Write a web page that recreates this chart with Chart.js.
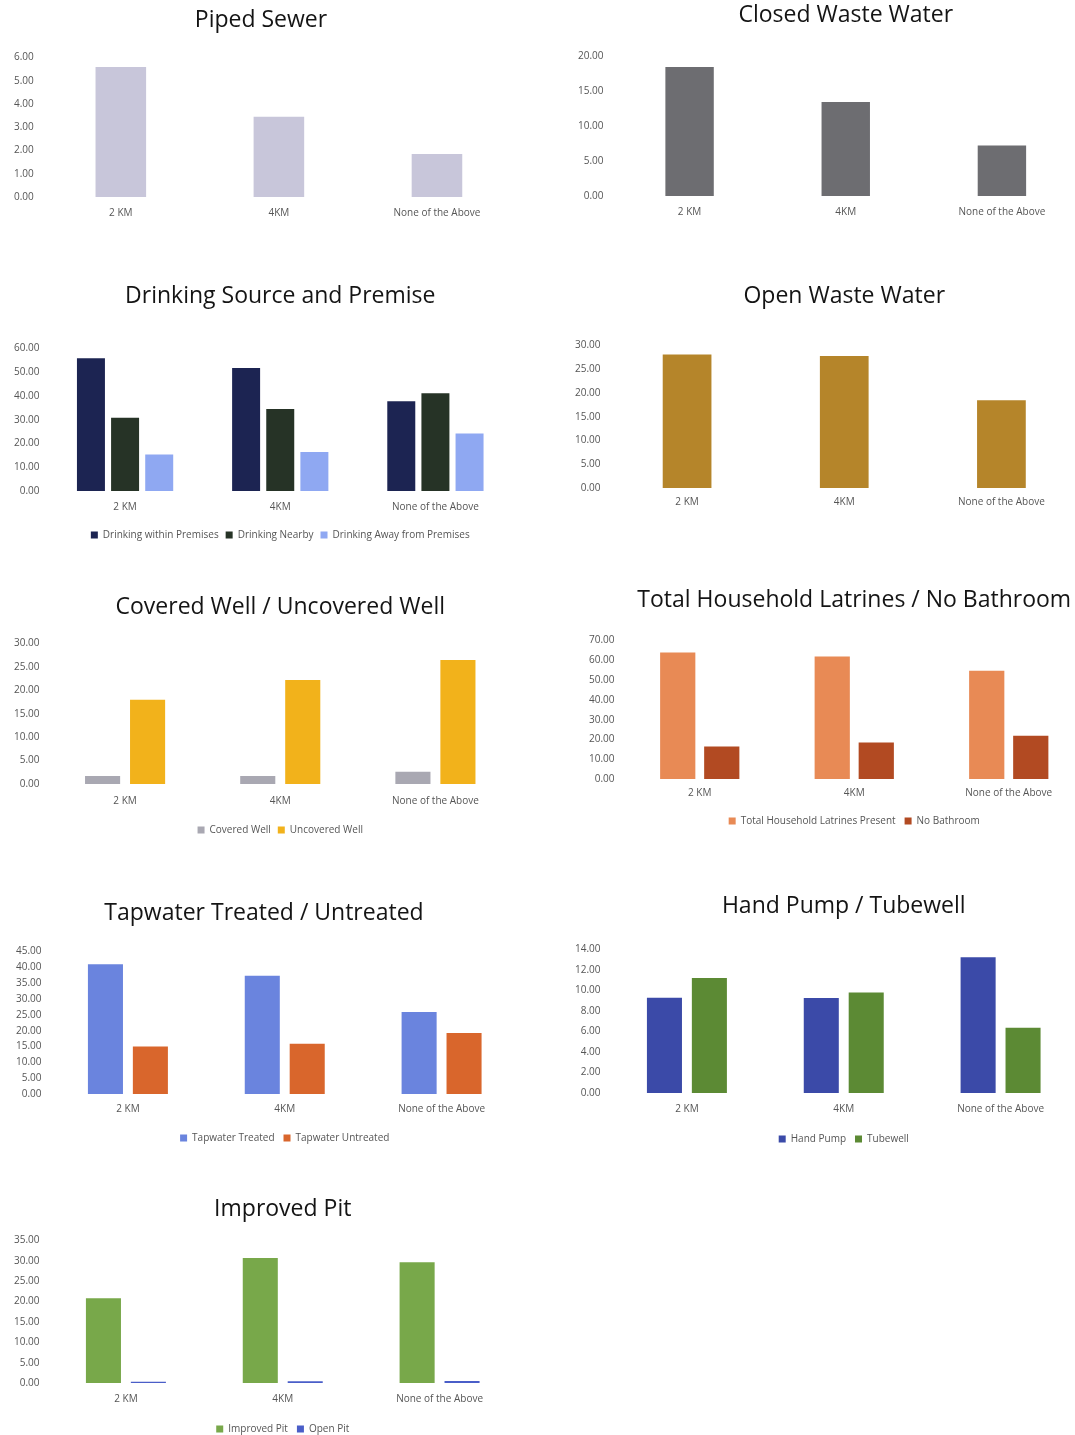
<!DOCTYPE html>
<html>
<head>
<meta charset="utf-8">
<script src="https://cdn.jsdelivr.net/npm/chart.js@4.4.1/dist/chart.umd.min.js"></script>
<style>
    html, body { margin: 0; padding: 0; background: #fff; overflow: hidden; width: 1075px; height: 1435px; }
    canvas { position: absolute; }
</style>
</head>
<body>
<script>
// --- Data ---
const categories = ['2 KM', '4KM', 'None of the Above'];

const pipedSewer = [5.6, 3.45, 1.85];
const closedWasteWater = [18.5, 13.5, 7.25];
const drinkingWithin = [55.9, 51.8, 37.8];
const drinkingNearby = [30.9, 34.6, 41.2];
const drinkingAway = [15.4, 16.4, 24.2];
const openWasteWater = [28.1, 27.8, 18.5];
const coveredWell = [1.7, 1.7, 2.6];
const uncoveredWell = [18.0, 22.2, 26.5];
const latrinesPresent = [64.0, 62.0, 54.8];
const noBathroom = [16.4, 18.4, 21.9];
const tapTreated = [41.0, 37.4, 25.9];
const tapUntreated = [15.0, 15.9, 19.3];
const handPump = [9.3, 9.27, 13.26];
const tubewell = [11.23, 9.82, 6.37];
const improvedPit = [20.8, 30.7, 29.7];
const openPit = [0.3, 0.4, 0.5];

const FONT = "'Open Sans', 'Noto Sans', sans-serif";

// --- One panel per chart: where it sits and how it looks ---
const panels = [
    { title: 'Piped Sewer', left: 0, top: 0, width: 520, height: 229, titleFull: true,
      pad: [6, 4], titlePad: [7, 23], xPad: 10, legendPad: 0,
      max: 6, step: 1, cat: 1, bar: 0.32,
      series: [{ label: 'Piped Sewer', data: pipedSewer, color: '#c8c6da' }], legend: false },
    { title: 'Closed Waste Water', left: 562, top: 0, width: 518, height: 228,
      pad: [8, 0], titlePad: [2, 27], xPad: 10, legendPad: 0,
      max: 20, step: 5, cat: 1, bar: 0.31,
      series: [{ label: 'Closed Waste Water', data: closedWasteWater, color: '#6d6d71' }], legend: false },
    { title: 'Drinking Source and Premise', left: 0, top: 270, width: 516, height: 280,
      pad: [6, 3], titlePad: [13, 38], xPad: 10, legendPad: 7,
      max: 60, step: 10, cat: 0.66, bar: 0.82,
      series: [
          { label: 'Drinking within Premises', data: drinkingWithin, color: '#1c2452' },
          { label: 'Drinking Nearby', data: drinkingNearby, color: '#263326' },
          { label: 'Drinking Away from Premises', data: drinkingAway, color: '#8fa8f2' }
      ], legend: true },
    { title: 'Open Waste Water', left: 562, top: 270, width: 518, height: 246,
      pad: [5, 0], titlePad: [13, 35], xPad: 8, legendPad: 0,
      max: 30, step: 5, cat: 1, bar: 0.31,
      series: [{ label: 'Open Waste Water', data: openWasteWater, color: '#b5852a' }], legend: false },
    { title: 'Covered Well / Uncovered Well', left: 0, top: 581, width: 516, height: 264,
      pad: [6, 3], titlePad: [13, 22], xPad: 11, legendPad: 7,
      max: 30, step: 5, cat: 0.58, bar: 0.78,
      series: [
          { label: 'Covered Well', data: coveredWell, color: '#a9a8b2' },
          { label: 'Uncovered Well', data: uncoveredWell, color: '#f2b21b' }
      ], legend: true },
    { title: 'Total Household Latrines / No Bathroom', left: 562, top: 574, width: 524, height: 262,
      pad: [19, 0], titlePad: [13, 26], xPad: 8, legendPad: 9,
      max: 70, step: 10, cat: 0.57, bar: 0.8,
      series: [
          { label: 'Total Household Latrines Present', data: latrinesPresent, color: '#e88a55' },
          { label: 'No Bathroom', data: noBathroom, color: '#b24a22' }
      ], legend: true },
    { title: 'Tapwater Treated / Untreated', left: 0, top: 887, width: 522, height: 266, titleFull: true,
      pad: [8, 2], titlePad: [13, 24], xPad: 9, legendPad: 9,
      max: 45, step: 5, cat: 0.573, bar: 0.78,
      series: [
          { label: 'Tapwater Treated', data: tapTreated, color: '#6a84de' },
          { label: 'Tapwater Untreated', data: tapUntreated, color: '#d9662c' }
      ], legend: true },
    { title: 'Hand Pump / Tubewell', left: 562, top: 880, width: 517, height: 274,
      pad: [5, 0], titlePad: [13, 29], xPad: 10, legendPad: 9,
      max: 14, step: 2, cat: 0.573, bar: 0.78,
      series: [
          { label: 'Hand Pump', data: handPump, color: '#3b4aa8' },
          { label: 'Tubewell', data: tubewell, color: '#5c8a34' }
      ], legend: true },
    { title: 'Improved Pit', left: 0, top: 1183, width: 520, height: 261,
      pad: [6, 2], titlePad: [13, 17], xPad: 10, legendPad: 9,
      max: 35, step: 5, cat: 0.573, bar: 0.78,
      series: [
          { label: 'Improved Pit', data: improvedPit, color: '#78a84a' },
          { label: 'Open Pit', data: openPit, color: '#4a5ec8' }
      ], legend: true }
];

function makePanel(p) {
    const canvas = document.createElement('canvas');
    canvas.width = p.width;
    canvas.height = p.height;
    canvas.style.left = p.left + 'px';
    canvas.style.top = p.top + 'px';
    document.body.appendChild(canvas);

    new Chart(canvas.getContext('2d'), {
        type: 'bar',
        data: {
            labels: categories,
            datasets: p.series.map(s => ({
                label: s.label,
                data: s.data,
                backgroundColor: s.color,
                borderWidth: 0,
                categoryPercentage: p.cat,
                barPercentage: p.bar
            }))
        },
        options: {
            responsive: false,
            animation: false,
            devicePixelRatio: 1,
            layout: { padding: { left: p.pad[0], right: p.pad[1], top: 0, bottom: 0 } },
            plugins: {
                title: {
                    display: true,
                    text: p.title,
                    fullSize: !!p.titleFull,
                    color: '#141414',
                    font: { family: FONT, size: 23, weight: 'normal' },
                    padding: { top: p.titlePad[0], bottom: p.titlePad[1] }
                },
                legend: {
                    display: p.legend,
                    position: 'bottom',
                    fullSize: false,
                    labels: {
                        boxWidth: 7,
                        boxHeight: 7,
                        padding: p.legendPad,
                        color: '#555',
                        font: { family: FONT, size: 10 }
                    }
                },
                tooltip: { enabled: false }
            },
            scales: {
                x: {
                    grid: { display: false, drawTicks: false },
                    border: { display: false },
                    ticks: {
                        padding: p.xPad,
                        color: '#555',
                        font: { family: FONT, size: 10 },
                        maxRotation: 0,
                        autoSkip: false
                    }
                },
                y: {
                    min: 0,
                    max: p.max,
                    grid: { display: false, drawTicks: false },
                    border: { display: false },
                    ticks: {
                        stepSize: p.step,
                        padding: 8,
                        color: '#555',
                        font: { family: FONT, size: 10 },
                        callback: v => v.toFixed(2)
                    }
                }
            }
        }
    });
}

panels.forEach(makePanel);
</script>
</body>
</html>
